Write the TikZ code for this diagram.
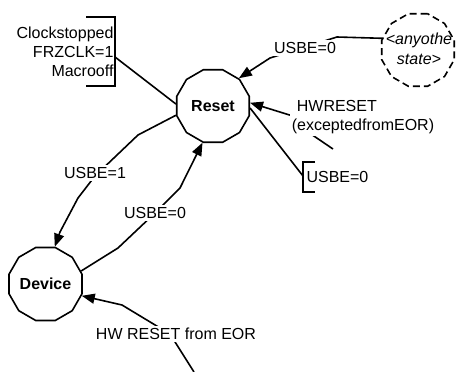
\documentclass[tikz,border=0pt]{standalone}
\usepackage{fontspec}
\setmainfont{Liberation Sans}
\usetikzlibrary{shapes.geometric,arrows.meta}
\begin{document}
\begin{tikzpicture}[x=1pt,y=-1pt,font=\fontsize{16}{19}\selectfont,
etat/.style={draw,regular polygon,regular polygon sides=12,minimum size=75pt,inner sep=0pt,line width=1.6pt,font=\fontsize{16}{19}\selectfont\bfseries},
fleche/.style={-{Triangle[length=13pt,width=10pt]},line width=1.6pt},
trait/.style={line width=1.6pt},
etiquette/.style={fill=white,inner sep=2pt}]
\useasboundingbox (0,0) rectangle (456,372);
% etats
\node[etat] (reset) at (213,106) {Reset};
\node[etat] (device) at (45.5,284) {Device};
\node[etat,dashed,dash pattern=on 7pt off 4pt] (autre) at (418,50) {};
\node[align=center,font=\fontsize{16}{20}\selectfont\itshape] (autretexte) at (419,49) {<anyothe\\state>};
% crochets
\draw[trait] (86,17) -- (115,17) -- (115,86) -- (86,86);
\node[anchor=east,align=right] (horloge) at (117,52) {Clockstopped\\FRZCLK=1\\Macrooff};
\coordinate (crochetG) at (115,57);
\draw[trait] (315,162) -- (303,162) -- (303,192) -- (315,192);
\coordinate (crochetD) at (303,176);
\node[anchor=west] (usbeD) at (303,177) {USBE=0};
\coordinate (hwsource) at (333,149);
\coordinate (eorsource) at (194,372);
% transitions
\draw[trait] (crochetG) -- (reset.177);
\draw[trait] (reset.-3) -- (crochetD);
\draw[fleche] (autre.162) -- (337,37) -- (270,58) -- (reset.47);
\draw[fleche] (hwsource) -- (305,130) -- (296,117) -- (reset.5);
\draw[fleche] (reset.194) -- (138,135) -- (95,176) -- (78,198) -- (60,232) -- (device.76);
\draw[fleche] (device.20) -- (118,248) -- (155,213) -- (180,188) -- (reset.254);
\draw[fleche] (eorsource) -- (170,334) -- (122,305) -- (device.-18);
% etiquettes
\node[etiquette] (usbeA) at (305,48) {USBE=0};
\node[etiquette,align=left] (hwreset) at (363,117) {\hspace*{5pt}HWRESET\\(exceptedfromEOR)};
\node[etiquette] (usbeB) at (95,173) {USBE=1};
\node[etiquette] (usbeC) at (155,213) {USBE=0};
\node[etiquette] (eor) at (176,334) {HW RESET from EOR};
\end{tikzpicture}
\end{document}
